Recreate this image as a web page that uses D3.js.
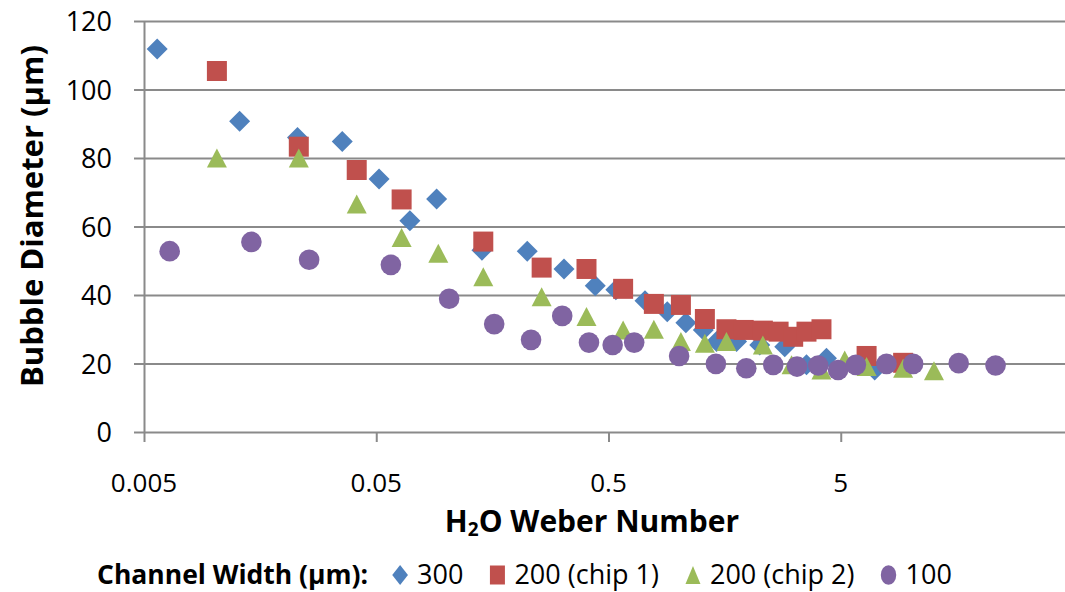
<!DOCTYPE html>
<html>
<head>
<meta charset="utf-8">
<script src="https://cdn.jsdelivr.net/npm/d3@7"></script>
<style>
body { margin: 0; background: #fff; }
svg { display: block; }
</style>
</head>
<body>
<div id="container"></div>
<script>
////////// DATA

var seriesNames = ["300", "200 (chip 1)", "200 (chip 2)", "100"];
var seriesColors = ["#4f81bd", "#c0504d", "#9bbb59", "#8064a2"];
var seriesShapes = ["diamond", "square", "triangle", "circle"];

// channel width 300 um
var weber300 = [0.0057, 0.0129, 0.0229, 0.0357, 0.0514, 0.0698, 0.091, 0.1426, 0.2234, 0.3216, 0.4385, 0.538,
	0.718, 0.895, 1.077, 1.28, 1.46, 1.78, 2.24, 2.87, 3.56, 4.34, 7.0];
var diam300 = [111.8, 90.7, 86.0, 84.8, 73.9, 61.7, 68.0, 53.1, 52.8, 47.6, 42.7, 41.5,
	38.3, 35.1, 31.9, 29.8, 26.4, 26.4, 25.4, 24.9, 19.6, 21.5, 18.1];

// channel width 200 um, chip 1
var weber200a = [0.0103, 0.0232, 0.0412, 0.0643, 0.1445, 0.2577, 0.402, 0.578, 0.784, 1.025, 1.30,
	1.61, 1.91, 2.31, 2.70, 3.12, 3.56, 4.13, 6.46, 9.28];
var diam200a = [105.4, 83.3, 76.5, 67.9, 55.6, 48.0, 47.6, 41.8, 37.4, 37.1, 33.0,
	30.0, 29.8, 29.6, 29.3, 27.8, 29.3, 30.0, 22.2, 20.2];

// channel width 200 um, chip 2
var weber200b = [0.0103, 0.0232, 0.0412, 0.0643, 0.0925, 0.1445, 0.2577, 0.402, 0.578, 0.784, 1.025,
	1.30, 1.61, 2.31, 3.07, 4.13, 5.2, 6.46, 9.28, 12.6];
var diam200b = [80.0, 80.0, 66.6, 56.8, 52.2, 45.3, 39.5, 33.7, 29.8, 30.0, 26.4,
	25.9, 26.4, 25.4, 19.6, 18.1, 21.0, 19.1, 18.6, 17.9];

// channel width 100 um
var weber100 = [0.00645, 0.0145, 0.0257, 0.0578, 0.103, 0.161, 0.232, 0.316, 0.412, 0.521, 0.645,
	1.007, 1.45, 1.96, 2.56, 3.24, 4.0, 4.87, 5.81, 7.87, 10.25, 16.1, 23.2];
var diam100 = [52.8, 55.5, 50.3, 48.8, 38.9, 31.5, 26.9, 33.9, 26.1, 25.4, 26.1,
	22.2, 19.9, 18.6, 19.6, 19.1, 19.4, 18.1, 19.6, 19.9, 19.9, 20.1, 19.4];

var xTicks = [0.005, 0.05, 0.5, 5];
var yTicks = [0, 20, 40, 60, 80, 100, 120];

////////// LAYOUT

var gWidth = 1065, gHeight = 592;
var plotLeft = 144, plotRight = 1073, plotTop = 21, plotBottom = 432;
var gridColor = "#8a8a8a";
var fontFamily = "'Open Sans', 'Noto Sans', sans-serif";

var svg = d3.select("#container").append("svg")
	.attr("width", gWidth)
	.attr("height", gHeight);

var x = d3.scaleLog().domain([0.005, 50]).range([plotLeft, plotRight]);
var y = d3.scaleLinear().domain([0, 120]).range([plotBottom, plotTop]);

function addText(px, py, str, size, weight, anchor)
{
	return svg.append("text")
		.attr("x", px)
		.attr("y", py)
		.attr("text-anchor", anchor || "start")
		.style("font-family", fontFamily)
		.style("font-size", size + "px")
		.style("font-weight", weight || "normal")
		.style("fill", "#000")
		.text(str);
}

function markerPath(shape)
{
	if (shape == "diamond") return "M0,-10.5L10.5,0L0,10.5L-10.5,0Z";
	if (shape == "square") return "M-10,-10H10V10H-10Z";
	if (shape == "triangle") return "M0,-9.5L10,9.5L-10,9.5Z";
	return d3.symbol(d3.symbolCircle, Math.PI * 10.3 * 10.3)();
}

////////// GRID AND AXES

// horizontal gridlines (0 line acts as x axis)
svg.append("g")
	.attr("transform", "translate(" + plotLeft + ",0)")
	.call(d3.axisLeft(y).tickValues(yTicks).tickSize(-(plotRight - plotLeft)).tickFormat(""))
	.call(function(g) { g.select(".domain").remove(); })
	.selectAll("line")
	.attr("stroke", gridColor)
	.attr("stroke-width", 2);

// y axis line and outer ticks
svg.append("g")
	.attr("transform", "translate(" + plotLeft + ",0)")
	.call(d3.axisLeft(y).tickValues(yTicks).tickSize(10).tickSizeOuter(0).tickFormat(""))
	.call(function(g) {
		g.select(".domain").attr("stroke", gridColor).attr("stroke-width", 2);
		g.selectAll("line").attr("stroke", gridColor).attr("stroke-width", 2);
	});

// x axis ticks
svg.append("g")
	.attr("transform", "translate(0," + plotBottom + ")")
	.call(d3.axisBottom(x).tickValues(xTicks).tickSize(10).tickSizeOuter(0).tickFormat(""))
	.call(function(g) {
		g.select(".domain").remove();
		g.selectAll("line").attr("stroke", gridColor).attr("stroke-width", 2);
	});

// tick labels
yTicks.forEach(function(t) { addText(112, y(t) + 10, String(t), 27, "normal", "end"); });
xTicks.forEach(function(t) { addText(x(t), 492, String(t), 26, "normal", "middle"); });

// axis titles
var xTitle = addText(592, 532, "H", 30, "bold", "middle");
xTitle.append("tspan").attr("dy", 4).style("font-size", "19px").text("2");
xTitle.append("tspan").attr("dy", -4).text("O Weber Number");

svg.append("text")
	.attr("transform", "translate(43,216) rotate(-90)")
	.attr("text-anchor", "middle")
	.style("font-family", fontFamily)
	.style("font-size", "31px")
	.style("font-weight", "bold")
	.text("Bubble Diameter (\u00b5m)");

////////// POINTS

var seriesData = [
	d3.zip(weber300, diam300),
	d3.zip(weber200a, diam200a),
	d3.zip(weber200b, diam200b),
	d3.zip(weber100, diam100)
];

seriesData.forEach(function(pts, i)
{
	svg.append("g").selectAll("path").data(pts).enter().append("path")
		.attr("transform", function(d) { return "translate(" + x(d[0]) + "," + y(d[1]) + ")"; })
		.attr("d", markerPath(seriesShapes[i]))
		.attr("fill", seriesColors[i]);
});

////////// LEGEND

var legendY = 575;
var legendTitle = addText(97, legendY + 9, "Channel Width (\u00b5m):", 26.5, "bold", "start");
var cursor = 97 + legendTitle.node().getComputedTextLength() + 32;
seriesNames.forEach(function(name, i)
{
	svg.append("path")
		.attr("transform", "translate(" + cursor + "," + legendY + ") scale(0.75,0.95)")
		.attr("d", markerPath(seriesShapes[i]))
		.attr("fill", seriesColors[i]);
	var t = addText(cursor + 17, legendY + 9, name, 27, "normal", "start");
	cursor += 17 + t.node().getComputedTextLength() + 34;
});
</script>
</body>
</html>
